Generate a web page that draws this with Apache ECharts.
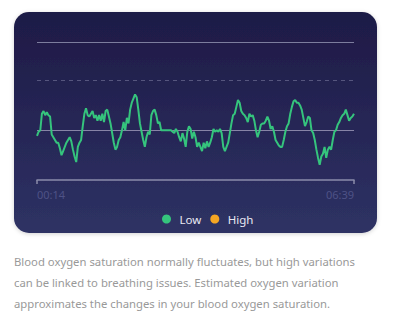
<!DOCTYPE html>
<html>
<head>
<meta charset="utf-8">
<script src="https://cdn.jsdelivr.net/npm/echarts@6/dist/echarts.min.js"></script>
<style>
  html, body { margin: 0; padding: 0; background: #ffffff; }
  #chart { width: 400px; height: 335px; }
</style>
</head>
<body>
<div id="chart"></div>
<script>
// Estimated oxygen variation over the night (relative scale 0-100)
const timeLabels = ['00:14', '06:39'];
const legendNames = ['Low', 'High'];
const lowValues = [
  32, 35, 36, 48, 50, 47, 49, 47, 46, 33,
  31, 29, 27, 27, 23, 18, 21, 24, 27, 29,
  31, 28, 22, 17, 13, 24, 27, 29, 39, 48,
  52, 47, 46, 48, 50, 45, 47, 43, 47, 43,
  48, 42, 50, 51, 46, 41, 34, 27, 22, 24,
  29, 31, 36, 42, 36, 45, 41, 51, 56, 59,
  62, 60, 51, 41, 35, 29, 24, 31, 35, 33,
  47, 50, 51, 47, 41, 42, 36, 36, 36, 36,
  36, 36, 36, 35, 34, 37, 35, 31, 28, 34,
  30, 24, 35, 39, 37, 30, 35, 31, 24, 27,
  24, 21, 27, 23, 28, 24, 27, 31, 37, 35,
  36, 35, 37, 34, 24, 21, 24, 27, 34, 41,
  47, 48, 53, 58, 56, 50, 48, 47, 45, 42,
  48, 46, 47, 43, 36, 31, 35, 40, 41, 41,
  43, 46, 43, 37, 39, 35, 29, 27, 25, 24,
  24, 29, 35, 39, 41, 48, 53, 57, 58, 56,
  56, 54, 51, 45, 39, 42, 46, 45, 36, 34,
  29, 22, 16, 11, 17, 19, 24, 16, 22, 24,
  22, 29, 35, 36, 40, 42, 45, 47, 48, 51,
  47, 43, 45, 46, 48
];
const highValues = [];
const referenceLevels = { upper: 100, dashed: 72, baseline: 36 };
const captionLines = [
  'Blood oxygen saturation normally fluctuates, but high variations',
  'can be linked to breathing issues. Estimated oxygen variation',
  'approximates the changes in your blood oxygen saturation.'
];

const lastIndex = lowValues.length - 1;
const chart = echarts.init(document.getElementById('chart'), null, { renderer: 'svg' });

chart.setOption({
  animation: false,
  backgroundColor: '#ffffff',
  graphic: [
    {
      type: 'rect',
      z: -10,
      shape: { x: 14, y: 12, width: 363, height: 221, r: 15 },
      style: {
        fill: new echarts.graphic.LinearGradient(0, 0, 0, 1, [
          { offset: 0, color: '#1e1a46' },
          { offset: 1, color: '#2e3264' }
        ]),
        shadowBlur: 4,
        shadowColor: 'rgba(0,0,0,0.18)',
        shadowOffsetY: 1
      }
    },
    ...captionLines.map((line, i) => ({
      type: 'text',
      left: 14,
      top: 256 + i * 21,
      style: {
        text: line,
        fill: '#999999',
        font: '11.3px "Noto Sans", sans-serif'
      }
    }))
  ],
  grid: { left: 37, right: 46, top: 42, bottom: 155 },
  legend: {
    data: legendNames,
    left: 157,
    top: 208,
    icon: 'circle',
    itemWidth: 16,
    itemHeight: 9,
    itemGap: 9,
    textStyle: { color: '#e8e8f2', fontSize: 11.5, fontFamily: '"Noto Sans", sans-serif' }
  },
  xAxis: {
    type: 'value',
    min: 0,
    max: lastIndex,
    interval: lastIndex,
    axisLine: { show: true, lineStyle: { color: '#8b8caa', width: 1.5 } },
    axisTick: { show: true, length: 4, lineStyle: { color: '#8b8caa', width: 1.5 } },
    splitLine: { show: false },
    axisLabel: {
      margin: 9,
      color: '#4e5286',
      fontSize: 11,
      fontFamily: '"Noto Sans", sans-serif',
      alignMinLabel: 'left',
      alignMaxLabel: 'right',
      formatter: (v) => (v === 0 ? timeLabels[0] : timeLabels[1])
    }
  },
  yAxis: {
    type: 'value',
    min: 0,
    max: 100,
    show: false
  },
  series: [
    {
      name: legendNames[0],
      type: 'line',
      color: '#35c47d',
      showSymbol: false,
      lineStyle: { width: 2, color: '#35c47d' },
      data: lowValues.map((v, i) => [i, v]),
      z: 5
    },
    {
      name: legendNames[1],
      type: 'line',
      color: '#f5a623',
      showSymbol: false,
      data: highValues,
      z: 1,
      markLine: {
        silent: true,
        symbol: 'none',
        label: { show: false },
        data: [
          { yAxis: referenceLevels.upper, lineStyle: { type: 'solid', color: '#7d7d9e', width: 1.2 } },
          { yAxis: referenceLevels.dashed, lineStyle: { type: [4, 4], color: '#56567e', width: 1.2 } },
          { yAxis: referenceLevels.baseline, lineStyle: { type: 'solid', color: '#8784a6', width: 1.2 } }
        ]
      }
    }
  ]
});
</script>
</body>
</html>
